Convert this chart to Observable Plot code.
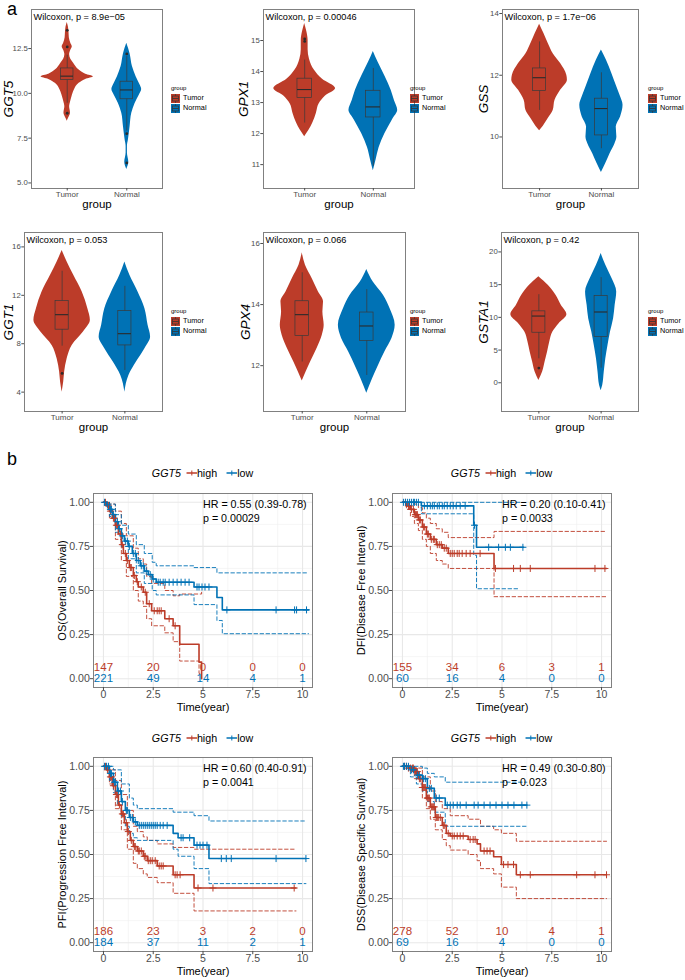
<!DOCTYPE html>
<html><head><meta charset="utf-8">
<script src="https://cdn.jsdelivr.net/npm/d3@7"></script>
<script src="https://cdn.jsdelivr.net/npm/@observablehq/plot@0.6"></script>
<style>
body{margin:0;background:#fff;font-family:"Liberation Sans",Arial,Helvetica,sans-serif;}
#fig{position:relative;width:685px;height:980px;overflow:hidden;background:#fff;}
</style></head><body><div id="fig"></div>
<script>
// ---------------- DATA : violins ----------------
const groups = ["Tumor", "Normal"];
const geneNames = ["GGT5", "GPX1", "GSS", "GGT1", "GPX4", "GSTA1"];
const wilcoxP = ["8.9e\u221205", "0.00046", "1.7e\u221206", "0.053", "0.066", "0.42"];
const ticksGGT5 = [5, 7.5, 10, 12.5];
const ticksGPX1 = [11, 12, 13, 14, 15];
const ticksGSS = [10, 12, 14];
const ticksGGT1 = [4, 8, 12, 16];
const ticksGPX4 = [12, 14, 16];
const ticksGSTA1 = [0, 5, 10, 15, 20];

// violin profiles: [expression value, half width]
const vGGT5T = [[13.95,0],[13.7,0.02],[13.4,0.03],[13.1,0.035],[12.8,0.06],[12.6,0.085],[12.4,0.06],[12.15,0.04],[11.9,0.06],[11.67,0.11],[11.3,0.2],[11.07,0.31],[10.93,0.44],[10.78,0.31],[10.56,0.2],[10.19,0.12],[9.81,0.08],[9.5,0.055],[9.26,0.04],[8.89,0.055],[8.6,0.02],[8.45,0]];
const vGGT5N = [[12.8,0],[12.5,0.03],[12.2,0.056],[11.5,0.095],[10.93,0.157],[10.46,0.224],[10.22,0.25],[9.9,0.21],[9.44,0.14],[8.89,0.084],[8.15,0.056],[7.41,0.028],[7.04,0.011],[6.67,0.011],[6.15,0.034],[5.75,0]];
const vGPX1T = [[15.55,0],[15.3,0.03],[15.0,0.05],[14.7,0.05],[14.4,0.07],[14.05,0.14],[13.75,0.26],[13.45,0.45],[13.2,0.3],[12.95,0.21],[12.65,0.17],[12.35,0.12],[12.1,0.06],[11.9,0]];
const vGPX1N = [[14.65,0],[14.3,0.07],[13.85,0.17],[13.4,0.26],[13.05,0.31],[12.75,0.355],[12.45,0.28],[12.0,0.17],[11.55,0.085],[11.15,0.04],[10.8,0]];
const vGSST = [[13.65,0],[13.35,0.07],[13.03,0.14],[12.7,0.22],[12.38,0.34],[12.0,0.44],[11.84,0.45],[11.51,0.34],[11.19,0.25],[10.86,0.22],[10.6,0.14],[10.35,0.06],[10.2,0]];
const vGSSN = [[12.82,0],[12.49,0.08],[12.05,0.17],[11.62,0.25],[11.3,0.31],[11.03,0.35],[10.65,0.31],[10.32,0.24],[10.0,0.25],[9.78,0.22],[9.46,0.14],[9.14,0.07],[8.85,0]];
const vGGT1T = [[15.7,0],[14.76,0.08],[13.66,0.185],[12.28,0.32],[10.9,0.41],[9.93,0.45],[8.97,0.34],[7.86,0.16],[6.76,0.08],[5.66,0.04],[4.83,0.025],[4.0,0]];
const vGGT1N = [[14.76,0],[13.66,0.08],[12.28,0.21],[10.9,0.32],[9.52,0.37],[8.55,0.41],[7.59,0.32],[6.48,0.185],[5.38,0.065],[4.0,0]];
const vGPX4T = [[15.7,0],[15.29,0.05],[14.85,0.155],[14.42,0.25],[14.09,0.33],[13.76,0.32],[13.32,0.34],[12.99,0.31],[12.56,0.23],[12.12,0.13],[11.79,0.06],[11.5,0]];
const vGPX4N = [[15.15,0],[14.74,0.1],[14.3,0.26],[13.87,0.36],[13.32,0.44],[12.89,0.39],[12.45,0.28],[12.0,0.18],[11.57,0.09],[11.1,0]];
const vGSTA1T = [[16.2,0],[14.9,0.15],[13.37,0.275],[11.84,0.36],[10.4,0.45],[9.03,0.325],[7.76,0.225],[6.22,0.175],[4.7,0.14],[3.16,0.1],[1.63,0.06],[0.36,0]];
const vGSTA1N = [[19.75,0],[17.96,0.075],[15.92,0.175],[13.88,0.25],[11.84,0.225],[9.8,0.2],[7.76,0.15],[5.71,0.11],[3.67,0.075],[1.63,0.05],[-0.41,0.025],[-1.2,0]];

// box stats: [lower whisker, Q1, median, Q3, upper whisker]
const bGGT5T = [9.45, 10.74, 10.96, 11.39, 12.13], oGGT5T = [13.52, 12.59, 8.89];
const bGGT5N = [7.9, 9.67, 10.19, 10.65, 12.05], oGGT5N = [12.2, 7.75, 6.12];
const bGPX1T = [12.34, 13.15, 13.42, 13.77, 14.37], oGPX1T = [15.05, 14.97];
const bGPX1N = [10.95, 12.52, 12.86, 13.38, 14.1], oGPX1N = [];
const bGSST = [10.86, 11.49, 11.92, 12.22, 13.08], oGSST = [];
const bGSSN = [9.62, 10.05, 10.92, 11.24, 12.08], oGSSN = [];
const bGGT1T = [7.8, 9.16, 10.4, 11.53, 13.99], oGGT1T = [5.55];
const bGGT1N = [5.79, 7.86, 8.83, 10.7, 12.74], oGGT1N = [];
const bGPX4T = [12.12, 12.97, 13.67, 14.11, 15.04], oGPX4T = [];
const bGPX4N = [11.68, 12.81, 13.3, 13.74, 14.49], oGPX4N = [];
const bGSTA1T = [3.67, 7.65, 10.2, 10.92, 13.47], oGSTA1T = [2.24];
const bGSTA1N = [2.24, 6.99, 10.82, 13.27, 16.07], oGSTA1N = [];

// ---------------- DATA : survival ----------------
const riskTimes = [0, 2.5, 5, 7.5, 10];
const riskOSHigh = [147, 20, 0, 0, 0], riskOSLow = [221, 49, 14, 4, 1];
const riskDFIHigh = [155, 34, 6, 3, 1], riskDFILow = [60, 16, 4, 0, 0];
const riskPFIHigh = [186, 23, 3, 2, 0], riskPFILow = [184, 37, 11, 2, 1];
const riskDSSHigh = [278, 52, 10, 4, 1], riskDSSLow = [69, 16, 4, 0, 0];
const hrTexts = ["HR = 0.55 (0.39-0.78)", "HR = 0.20 (0.10-0.41)", "HR = 0.60 (0.40-0.91)", "HR = 0.49 (0.30-0.80)"];
const pTexts = ["p = 0.00029", "p = 0.0033", "p = 0.0041", "p = 0.023"];
const survLabels = ["OS(Overall Survival)", "DFI(Disease Free Interval)", "PFI(Progression Free Interval)", "DSS(Disease Specific Survival)"];

// step curves [time, survival]
const osHigh = [[0,1],[0.15,0.98],[0.3,0.95],[0.45,0.91],[0.6,0.87],[0.75,0.82],[0.9,0.76],[1.0,0.71],[1.15,0.67],[1.3,0.63],[1.5,0.585],[1.65,0.55],[1.75,0.52],[2.0,0.49],[2.17,0.425],[2.42,0.385],[3.08,0.34],[3.5,0.30],[3.83,0.195],[4.8,0.094],[4.93,0]];
const osHighU = [[0,1],[0.3,0.99],[0.6,0.95],[0.9,0.88],[1.15,0.81],[1.5,0.74],[1.75,0.68],[2.0,0.65],[2.17,0.58],[2.42,0.54],[3.08,0.50],[3.5,0.47],[3.83,0.48],[4.93,0.49]];
const osHighL = [[0,1],[0.3,0.91],[0.6,0.79],[0.9,0.67],[1.15,0.58],[1.5,0.50],[1.75,0.44],[2.0,0.41],[2.17,0.34],[2.42,0.30],[3.08,0.26],[3.5,0.21],[3.83,0.10],[4.8,0.03],[4.93,0.03]];
const osLow = [[0,1],[0.15,0.985],[0.3,0.96],[0.45,0.93],[0.6,0.89],[0.75,0.85],[0.9,0.81],[1.05,0.78],[1.25,0.75],[1.45,0.71],[1.65,0.67],[1.85,0.64],[2.05,0.61],[2.25,0.59],[2.45,0.565],[2.65,0.547],[4.55,0.52],[5.7,0.46],[5.97,0.39],[10.3,0.39]];
const osLowU = [[0,1],[0.3,0.99],[0.6,0.93],[0.9,0.87],[1.25,0.82],[1.65,0.76],[2.05,0.71],[2.45,0.66],[2.65,0.64],[4.55,0.63],[5.7,0.60],[10.3,0.60]];
const osLowL = [[0,1],[0.3,0.92],[0.6,0.83],[0.9,0.75],[1.25,0.68],[1.65,0.60],[2.05,0.54],[2.45,0.50],[2.65,0.475],[4.55,0.42],[5.7,0.33],[5.97,0.255],[10.3,0.255]];
const osHighC = [0.1,0.25,0.35,0.5,0.55,0.65,0.7,0.85,0.95,1.1,1.2,1.35,1.4,1.55,1.7,1.9,2.1,2.3,2.55,2.7,2.8,2.9,3.3,3.6];
const osLowC = [0.05,0.2,0.35,0.4,0.5,0.7,0.8,0.95,1.1,1.2,1.3,1.5,1.6,1.75,1.9,2.0,2.15,2.35,2.5,2.75,2.85,3.0,3.1,3.3,3.5,3.7,3.9,4.1,4.3,4.7,4.8,4.95,5.1,5.3,6.2,8.67,9.6,9.7,10.2];

const dfiHigh = [[0,1],[0.2,0.98],[0.4,0.96],[0.6,0.93],[0.8,0.90],[1.0,0.86],[1.2,0.82],[1.4,0.79],[1.7,0.76],[2.0,0.74],[2.3,0.71],[4.6,0.625],[10.25,0.625]];
const dfiHighU = [[0,1],[0.4,1.0],[0.6,0.99],[0.8,0.97],[1.0,0.94],[1.2,0.91],[1.4,0.88],[1.7,0.85],[2.0,0.83],[2.3,0.80],[4.6,0.835],[10.25,0.835]];
const dfiHighL = [[0,1],[0.2,0.96],[0.4,0.92],[0.6,0.88],[0.8,0.84],[1.0,0.79],[1.2,0.75],[1.4,0.71],[1.7,0.67],[2.0,0.65],[2.3,0.625],[4.6,0.465],[10.25,0.465]];
const dfiLow = [[0,1],[0.95,0.98],[3.58,0.87],[3.72,0.745],[6.08,0.745]];
const dfiLowU = [[0,1],[5.9,1]];
const dfiLowL = [[0,1],[0.95,0.935],[3.58,0.70],[3.72,0.51],[5.9,0.51]];
const dfiHighC = [0.15,0.3,0.35,0.45,0.55,0.65,0.7,0.75,0.85,0.9,1.05,1.1,1.25,1.3,1.45,1.55,1.6,1.75,1.85,1.95,2.1,2.2,2.4,2.5,2.6,2.75,2.85,3.0,3.2,3.4,3.9,4.67,5.58,5.92,6.42,9.67,10.17];
const dfiLowC = [0.05,0.15,0.25,0.35,0.45,0.55,0.6,0.7,0.8,1.1,1.25,1.4,1.5,1.6,1.75,1.85,2.0,2.1,2.25,2.4,2.55,2.7,2.9,3.15,3.62,4.33,4.83,5.17,5.42,6.05];

const pfiHigh = [[0,1],[0.15,0.98],[0.3,0.94],[0.45,0.89],[0.6,0.84],[0.75,0.78],[0.9,0.73],[1.05,0.68],[1.2,0.63],[1.35,0.58],[1.5,0.545],[1.7,0.52],[2.0,0.49],[2.2,0.465],[2.7,0.435],[3.5,0.385],[4.55,0.31],[9.67,0.31]];
const pfiHighU = [[0,1],[0.3,0.98],[0.6,0.92],[0.9,0.84],[1.2,0.75],[1.5,0.66],[1.7,0.63],[2.0,0.60],[2.2,0.58],[2.7,0.56],[3.5,0.54],[4.55,0.53],[9.67,0.53]];
const pfiHighL = [[0,1],[0.3,0.90],[0.6,0.76],[0.9,0.64],[1.2,0.53],[1.5,0.45],[1.7,0.42],[2.0,0.39],[2.2,0.37],[2.7,0.34],[3.5,0.28],[4.55,0.18],[9.67,0.18]];
const pfiLow = [[0,1],[0.3,0.96],[0.5,0.91],[0.7,0.86],[0.9,0.80],[1.1,0.75],[1.3,0.71],[1.5,0.685],[1.7,0.665],[3.5,0.62],[3.75,0.595],[4.55,0.553],[5.3,0.477],[10.17,0.477]];
const pfiLowU = [[0,1],[0.5,0.98],[0.9,0.90],[1.3,0.82],[1.5,0.78],[1.7,0.76],[3.5,0.74],[4.55,0.72],[5.3,0.69],[10.17,0.69]];
const pfiLowL = [[0,1],[0.3,0.92],[0.5,0.85],[0.7,0.78],[0.9,0.72],[1.1,0.66],[1.3,0.62],[1.5,0.595],[1.7,0.58],[3.5,0.53],[3.75,0.49],[4.55,0.42],[5.3,0.335],[10.17,0.335]];
const pfiHighC = [0.1,0.2,0.35,0.4,0.5,0.65,0.7,0.8,0.95,1.0,1.15,1.25,1.4,1.55,1.6,1.75,1.8,1.9,2.05,2.1,2.25,2.35,2.45,2.6,2.8,2.9,3.0,3.6,3.7,3.85,4.75,5.5,9.58];
const pfiLowC = [0.05,0.15,0.25,0.35,0.4,0.55,0.6,0.75,0.85,0.95,1.15,1.2,1.35,1.45,1.6,1.8,1.9,2.0,2.1,2.2,2.3,2.4,2.5,2.6,2.7,2.85,3.0,3.2,3.9,4.0,4.33,4.7,4.85,5.0,5.2,5.92,6.17,6.42,8.67,10.17];

const dssHigh = [[0,1],[0.3,0.99],[0.6,0.97],[0.8,0.93],[1.0,0.88],[1.2,0.82],[1.4,0.77],[1.65,0.71],[2.0,0.665],[2.2,0.62],[2.4,0.605],[3.3,0.585],[3.75,0.56],[3.92,0.52],[4.58,0.487],[4.97,0.443],[5.72,0.385],[10.25,0.385]];
const dssHighU = [[0,1],[0.6,0.99],[1.0,0.94],[1.4,0.86],[1.65,0.80],[2.0,0.76],[2.4,0.72],[3.3,0.70],[3.92,0.66],[4.58,0.64],[4.97,0.62],[5.72,0.575],[10.25,0.575]];
const dssHighL = [[0,1],[0.6,0.93],[1.0,0.82],[1.2,0.76],[1.4,0.70],[1.65,0.64],[2.0,0.585],[2.2,0.55],[2.4,0.525],[3.3,0.50],[3.75,0.465],[3.92,0.42],[4.58,0.39],[4.97,0.315],[5.72,0.25],[10.25,0.25]];
const dssLow = [[0,1],[0.4,0.98],[0.7,0.95],[1.0,0.93],[1.25,0.875],[1.6,0.82],[2.15,0.78],[6.25,0.78]];
const dssLowU = [[0,1],[1.0,0.99],[1.25,0.96],[1.6,0.94],[2.15,0.91],[6.25,0.91]];
const dssLowL = [[0,1],[0.4,0.94],[0.7,0.90],[1.0,0.86],[1.25,0.80],[1.6,0.74],[2.15,0.66],[6.25,0.66]];
const dssHighC = [0.1,0.2,0.3,0.4,0.5,0.55,0.65,0.7,0.75,0.85,0.9,1.0,1.05,1.1,1.15,1.25,1.3,1.35,1.45,1.5,1.55,1.6,1.7,1.75,1.8,1.9,2.05,2.1,2.3,2.5,2.6,2.75,2.9,3.05,3.4,3.55,3.65,4.1,4.25,4.4,5.08,5.3,5.58,5.92,6.42,8.75,9.67,10.25];
const dssLowC = [0.05,0.1,0.2,0.3,0.45,0.55,0.75,0.85,1.05,1.15,1.35,1.45,1.7,1.85,2.25,2.4,2.55,2.75,2.9,3.2,3.6,3.8,4.1,4.4,4.7,5.0,5.3,5.6,6.0,6.25];

const kmTimeTicks = [0, 2.5, 5, 7.5, 10];
const kmSurvTicks = [0, 0.25, 0.5, 0.75, 1];
const kmMinorX = [1.25, 3.75, 6.25, 8.75];
const kmMinorY = [0.125, 0.375, 0.625, 0.875];

// ---------------- STYLE / LAYOUT ----------------
const FONT = "'Liberation Sans', Arial, Helvetica, sans-serif";
const vColors = ["#BC3C29", "#0072B5"];
const RED = "#BC3C29", BLUE = "#0072B5";
const fig = document.getElementById("fig");

const violinTable = {
  GGT5: {prof: [vGGT5T, vGGT5N], box: [bGGT5T, bGGT5N], out: [oGGT5T, oGGT5N], ticks: ticksGGT5, fmt: ".1f"},
  GPX1: {prof: [vGPX1T, vGPX1N], box: [bGPX1T, bGPX1N], out: [oGPX1T, oGPX1N], ticks: ticksGPX1},
  GSS: {prof: [vGSST, vGSSN], box: [bGSST, bGSSN], out: [oGSST, oGSSN], ticks: ticksGSS},
  GGT1: {prof: [vGGT1T, vGGT1N], box: [bGGT1T, bGGT1N], out: [oGGT1T, oGGT1N], ticks: ticksGGT1},
  GPX4: {prof: [vGPX4T, vGPX4N], box: [bGPX4T, bGPX4N], out: [oGPX4T, oGPX4N], ticks: ticksGPX4},
  GSTA1: {prof: [vGSTA1T, vGSTA1N], box: [bGSTA1T, bGSTA1N], out: [oGSTA1T, oGSTA1N], ticks: ticksGSTA1}
};

const violinLayout = [
  {left: 0,   top: 0,   x0: 31,  x1: 162, y0: 9,   y1: 188, yDomain: [4.69, 14.68], ylabX: 8,   legX: 171, legY: 88},
  {left: 225, top: 0,   x0: 263, x1: 414, y0: 9,   y1: 188, yDomain: [10.23, 16.0], ylabX: 243, legX: 410, legY: 88},
  {left: 455, top: 0,   x0: 502, x1: 638, y0: 9,   y1: 188, yDomain: [8.33, 14.13], ylabX: 483, legX: 648, legY: 88},
  {left: 0,   top: 223, x0: 24,  x1: 162, y0: 232, y1: 411, yDomain: [2.40, 17.19], ylabX: 8,   legX: 171, legY: 311},
  {left: 225, top: 223, x0: 263, x1: 405, y0: 232, y1: 411, yDomain: [10.50, 16.36], ylabX: 245, legX: 410, legY: 311},
  {left: 455, top: 223, x0: 501, x1: 638, y0: 232, y1: 411, yDomain: [-4.39, 22.97], ylabX: 483, legX: 648, legY: 311}
];

function place(el, left, top) {
  el.style.position = "absolute";
  el.style.left = left + "px";
  el.style.top = top + "px";
  fig.appendChild(el);
}

function violinPanel(L, gi) {
  const gene = geneNames[gi];
  const V = violinTable[gene];
  const mL = L.x0 - L.left, mT = L.y0 - L.top, mR = 2, mB = 30;
  const W = L.x1 - L.left + mR, H = L.y1 - L.top + mB;
  const marks = [];
  groups.forEach((g, i) => {
    const c = i + 1;
    const prof = V.prof[i].slice().sort((a, b) => a[0] - b[0]);
    marks.push(Plot.areaX(prof, {y: d => d[0], x1: d => c - d[1], x2: d => c + d[1], fill: vColors[i], curve: "monotone-y"}));
  });
  groups.forEach((g, i) => {
    const c = i + 1, b = V.box[i];
    marks.push(Plot.ruleX([b], {x: () => c, y1: d => d[0], y2: d => d[1], stroke: "#3a3a3a", strokeWidth: 0.7}));
    marks.push(Plot.ruleX([b], {x: () => c, y1: d => d[3], y2: d => d[4], stroke: "#3a3a3a", strokeWidth: 0.7}));
    marks.push(Plot.rect([b], {x1: () => c - 0.105, x2: () => c + 0.105, y1: d => d[1], y2: d => d[3], fill: "none", stroke: "#3a3a3a", strokeWidth: 0.7}));
    marks.push(Plot.ruleY([b], {y: d => d[2], x1: () => c - 0.105, x2: () => c + 0.105, stroke: "#2a2a2a", strokeWidth: 1.1}));
    marks.push(Plot.dot(V.out[i], {x: () => c, y: d => d, r: 1.4, fill: "#2a2a2a", stroke: "none"}));
  });
  marks.push(Plot.frame({stroke: "#808080", strokeWidth: 1}));
  marks.push(Plot.axisY({ticks: V.ticks, tickFormat: V.fmt ? d3.format(V.fmt) : (d => String(d)), tickSize: 2.7, tickPadding: 1, fontSize: 7.8, color: "#4D4D4D", label: null}));
  marks.push(Plot.axisX({ticks: [1, 2], tickFormat: d => groups[d - 1], tickSize: 2.5, tickPadding: 0, fontSize: 8, color: "#4D4D4D", label: null}));
  marks.push(Plot.text([gene], {text: d => d, frameAnchor: "left", dx: L.ylabX - L.x0, rotate: -90, textAnchor: "middle", lineAnchor: "middle", fontStyle: "italic", fontSize: 13.5, fill: "#000"}));
  marks.push(Plot.text(["group"], {text: d => d, frameAnchor: "bottom", dy: 16, textAnchor: "middle", lineAnchor: "middle", fontSize: 11.5, fill: "#000"}));
  marks.push(Plot.text([`Wilcoxon, p = ${wilcoxP[gi]}`], {text: d => d, frameAnchor: "top-left", dx: 2, dy: 8, textAnchor: "start", lineAnchor: "middle", fontSize: 9.2, fill: "#000"}));
  const svg = Plot.plot({
    width: W, height: H, marginLeft: mL, marginRight: mR, marginTop: mT, marginBottom: mB,
    x: {domain: [0.4, 2.6]}, y: {domain: L.yDomain},
    style: {fontFamily: FONT, background: "transparent", overflow: "visible", maxWidth: "none"},
    marks
  });
  place(svg, L.left, L.top);
  // legend
  const d = document.createElement("div");
  d.style.cssText = `font-family:${FONT};font-size:6px;line-height:10px;color:#000;white-space:nowrap;`;
  let h = `<div style="height:10px">group</div>`;
  groups.forEach((g, i) => {
    h += `<div style="height:10px;display:flex;align-items:center;"><svg width="9" height="9" style="display:block"><rect x="0" y="0" width="9" height="9" fill="${vColors[i]}"/><rect x="1.5" y="2" width="6" height="5" fill="none" stroke="#333" stroke-width="0.7"/><line x1="1.5" x2="7.5" y1="4.5" y2="4.5" stroke="#333" stroke-width="0.8"/><line x1="4.5" x2="4.5" y1="0" y2="2" stroke="#333" stroke-width="0.6"/><line x1="4.5" x2="4.5" y1="7" y2="9" stroke="#333" stroke-width="0.6"/></svg><span style="margin-left:3px;font-size:7.3px">${g}</span></div>`;
  });
  d.innerHTML = h;
  place(d, L.legX, L.legY - 5);
}

violinLayout.forEach((L, i) => violinPanel(L, i));

// ---------------- KM panels ----------------
function survAt(curve, t) {
  let s = curve[0][1];
  for (const [ti, si] of curve) { if (ti <= t) s = si; else break; }
  return s;
}

const kmPanels = [
  {x0: 93,  x1: 312, y0: 493, y1: 687, high: osHigh, highU: osHighU, highL: osHighL, low: osLow, lowU: osLowU, lowL: osLowL, highC: osHighC, lowC: osLowC, rH: riskOSHigh, rL: riskOSLow, legY: 473},
  {x0: 392, x1: 611, y0: 493, y1: 687, high: dfiHigh, highU: dfiHighU, highL: dfiHighL, low: dfiLow, lowU: dfiLowU, lowL: dfiLowL, highC: dfiHighC, lowC: dfiLowC, rH: riskDFIHigh, rL: riskDFILow, legY: 473},
  {x0: 93,  x1: 312, y0: 757, y1: 951, high: pfiHigh, highU: pfiHighU, highL: pfiHighL, low: pfiLow, lowU: pfiLowU, lowL: pfiLowL, highC: pfiHighC, lowC: pfiLowC, rH: riskPFIHigh, rL: riskPFILow, legY: 738},
  {x0: 392, x1: 611, y0: 757, y1: 951, high: dssHigh, highU: dssHighU, highL: dssHighL, low: dssLow, lowU: dssLowU, lowL: dssLowL, highC: dssHighC, lowC: dssLowC, rH: riskDSSHigh, rL: riskDSSLow, legY: 738}
];

function kmPanel(k, idx) {
  const mL = 93, mR = 28, mT = 14, mB = 36;
  const W = (k.x1 - k.x0) + mL + mR, H = (k.y1 - k.y0) + mT + mB;
  const xy = {x: d => d[0], y: d => d[1], curve: "step-after"};
  const dash = {strokeWidth: 0.9, strokeDasharray: "3.5,2.5"};
  const svg = Plot.plot({
    width: W, height: H, marginLeft: mL, marginRight: mR, marginTop: mT, marginBottom: mB,
    x: {domain: [-0.5, 10.5]}, y: {domain: [-0.05, 1.05]},
    style: {fontFamily: FONT, background: "transparent", overflow: "visible", maxWidth: "none"},
    marks: [
      Plot.ruleX(kmMinorX, {stroke: "#F0F0F0", strokeWidth: 0.6}),
      Plot.ruleY(kmMinorY, {stroke: "#F0F0F0", strokeWidth: 0.6}),
      Plot.ruleX(kmTimeTicks, {stroke: "#E8E8E8", strokeWidth: 1.1}),
      Plot.ruleY(kmSurvTicks, {stroke: "#E8E8E8", strokeWidth: 1.1}),
      Plot.line(k.highU, {...xy, ...dash, stroke: RED}),
      Plot.line(k.highL, {...xy, ...dash, stroke: RED}),
      Plot.line(k.lowU, {...xy, ...dash, stroke: BLUE}),
      Plot.line(k.lowL, {...xy, ...dash, stroke: BLUE}),
      Plot.line(k.high, {...xy, stroke: RED, strokeWidth: 1.6}),
      Plot.line(k.low, {...xy, stroke: BLUE, strokeWidth: 1.6}),
      Plot.dot(k.highC, {x: d => d, y: d => survAt(k.high, d), symbol: "plus", r: 2.4, stroke: RED, strokeWidth: 1}),
      Plot.dot(k.lowC, {x: d => d, y: d => survAt(k.low, d), symbol: "plus", r: 2.4, stroke: BLUE, strokeWidth: 1}),
      Plot.text(riskTimes, {x: d => d, y: () => 0.0625, text: (d, i) => String(k.rH[i]), fill: RED, fontSize: 11.5, lineAnchor: "middle"}),
      Plot.text(riskTimes, {x: d => d, y: () => 0, text: (d, i) => String(k.rL[i]), fill: BLUE, fontSize: 11.5, lineAnchor: "middle"}),
      Plot.text([hrTexts[idx], pTexts[idx]], {x: () => 5.0, y: (d, i) => i ? 0.91 : 0.985, text: d => d, textAnchor: "start", lineAnchor: "middle", fontSize: 10.7, fill: "#000"}),
      Plot.frame({stroke: "#808080", strokeWidth: 1}),
      Plot.axisX({ticks: kmTimeTicks, tickFormat: d => String(d), tickSize: 3.2, tickPadding: 0, fontSize: 10.5, color: "#4D4D4D", label: null}),
      Plot.axisY({ticks: kmSurvTicks, tickFormat: d3.format(".2f"), tickSize: 3.2, tickPadding: 0.5, fontSize: 10.6, color: "#4D4D4D", label: null}),
      Plot.text([survLabels[idx]], {text: d => d, frameAnchor: "left", dx: -31, rotate: -90, textAnchor: "middle", lineAnchor: "middle", fontSize: 11, fill: "#000"}),
      Plot.text(["Time(year)"], {text: d => d, frameAnchor: "bottom", dy: 20, textAnchor: "middle", lineAnchor: "middle", fontSize: 11, fill: "#000"})
    ]
  });
  place(svg, k.x0 - mL, k.y0 - mT);
  // legend
  const key = c => `<svg width="11" height="10" style="display:block;margin-left:5px"><line x1="0" x2="11" y1="5" y2="5" stroke="${c}" stroke-width="1.5"/><line x1="5.5" x2="5.5" y1="2.5" y2="7.5" stroke="${c}" stroke-width="1"/></svg>`;
  const lg = document.createElement("div");
  lg.style.cssText = `font-family:${FONT};font-size:10.7px;height:14px;display:flex;align-items:center;white-space:nowrap;transform:translateX(-50%);color:#000;`;
  lg.innerHTML = `<i>GGT5</i>${key(RED)}<span>high</span><span style="width:4px"></span>${key(BLUE)}<span>low</span>`;
  place(lg, (k.x0 + k.x1) / 2, k.legY - 7);
}

kmPanels.forEach((k, i) => kmPanel(k, i));

// panel letters
const la = document.createElement("div");
la.style.cssText = `font-family:${FONT};font-size:18px;line-height:18px;color:#000;`;
la.textContent = "a";
place(la, 7, 0);
const lb = document.createElement("div");
lb.style.cssText = `font-family:${FONT};font-size:18px;line-height:18px;color:#000;`;
lb.textContent = "b";
place(lb, 7, 450);
</script>
</body></html>
